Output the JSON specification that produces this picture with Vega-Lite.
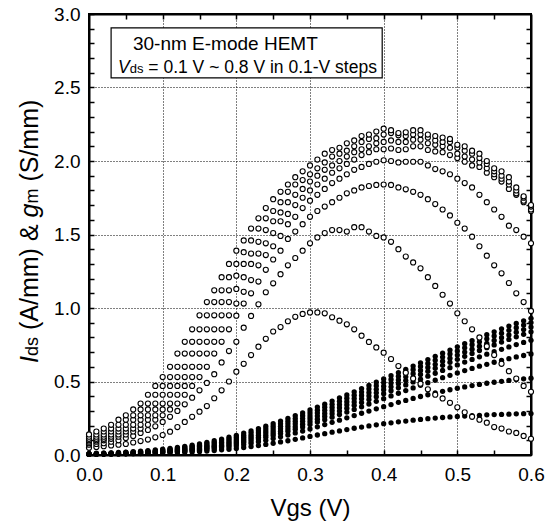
{
"$schema": "https://vega.github.io/schema/vega-lite/v6.json",
"width": 442, "height": 441,
"autosize": {"type": "none"},
"padding": {"left": 89, "top": 14, "right": 21, "bottom": 71},
"background": "white",
"config": {"font": "Liberation Sans", "view": {"stroke": "black", "strokeWidth": 2}},
"datasets": {
"gm": [
{"vds":0.1,"vgs":0,"y":0.05},{"vds":0.1,"vgs":0.01,"y":0.055},{"vds":0.1,"vgs":0.02,"y":0.06},{"vds":0.1,"vgs":0.03,"y":0.065},{"vds":0.1,"vgs":0.04,"y":0.07},{"vds":0.1,"vgs":0.05,"y":0.075},{"vds":0.1,"vgs":0.06,"y":0.085},{"vds":0.1,"vgs":0.07,"y":0.095},{"vds":0.1,"vgs":0.08,"y":0.105},{"vds":0.1,"vgs":0.09,"y":0.12},{"vds":0.1,"vgs":0.1,"y":0.136},
{"vds":0.1,"vgs":0.11,"y":0.159},{"vds":0.1,"vgs":0.12,"y":0.19},{"vds":0.1,"vgs":0.13,"y":0.225},{"vds":0.1,"vgs":0.14,"y":0.26},{"vds":0.1,"vgs":0.15,"y":0.295},{"vds":0.1,"vgs":0.16,"y":0.333},{"vds":0.1,"vgs":0.17,"y":0.386},{"vds":0.1,"vgs":0.18,"y":0.44},{"vds":0.1,"vgs":0.19,"y":0.5},{"vds":0.1,"vgs":0.2,"y":0.567},
{"vds":0.1,"vgs":0.21,"y":0.62},{"vds":0.1,"vgs":0.22,"y":0.68},{"vds":0.1,"vgs":0.23,"y":0.737},{"vds":0.1,"vgs":0.24,"y":0.79},{"vds":0.1,"vgs":0.25,"y":0.84},{"vds":0.1,"vgs":0.26,"y":0.87},{"vds":0.1,"vgs":0.27,"y":0.91},{"vds":0.1,"vgs":0.28,"y":0.94},{"vds":0.1,"vgs":0.29,"y":0.96},{"vds":0.1,"vgs":0.3,"y":0.97},
{"vds":0.1,"vgs":0.31,"y":0.97},{"vds":0.1,"vgs":0.32,"y":0.964},{"vds":0.1,"vgs":0.33,"y":0.937},{"vds":0.1,"vgs":0.34,"y":0.914},{"vds":0.1,"vgs":0.35,"y":0.889},{"vds":0.1,"vgs":0.36,"y":0.855},{"vds":0.1,"vgs":0.37,"y":0.812},{"vds":0.1,"vgs":0.38,"y":0.769},{"vds":0.1,"vgs":0.39,"y":0.732},{"vds":0.1,"vgs":0.4,"y":0.696},
{"vds":0.1,"vgs":0.41,"y":0.653},{"vds":0.1,"vgs":0.42,"y":0.605},{"vds":0.1,"vgs":0.43,"y":0.56},{"vds":0.1,"vgs":0.44,"y":0.52},{"vds":0.1,"vgs":0.45,"y":0.485},{"vds":0.1,"vgs":0.46,"y":0.447},{"vds":0.1,"vgs":0.47,"y":0.41},{"vds":0.1,"vgs":0.48,"y":0.385},{"vds":0.1,"vgs":0.49,"y":0.355},{"vds":0.1,"vgs":0.5,"y":0.324},
{"vds":0.1,"vgs":0.51,"y":0.29},{"vds":0.1,"vgs":0.52,"y":0.26},{"vds":0.1,"vgs":0.53,"y":0.24},{"vds":0.1,"vgs":0.54,"y":0.22},{"vds":0.1,"vgs":0.55,"y":0.19},{"vds":0.1,"vgs":0.56,"y":0.18},{"vds":0.1,"vgs":0.57,"y":0.16},{"vds":0.1,"vgs":0.58,"y":0.15},{"vds":0.1,"vgs":0.59,"y":0.13},{"vds":0.1,"vgs":0.6,"y":0.11},

{"vds":0.2,"vgs":0,"y":0.07},{"vds":0.2,"vgs":0.01,"y":0.075},{"vds":0.2,"vgs":0.02,"y":0.08},{"vds":0.2,"vgs":0.03,"y":0.09},{"vds":0.2,"vgs":0.04,"y":0.1},{"vds":0.2,"vgs":0.05,"y":0.115},{"vds":0.2,"vgs":0.06,"y":0.13},{"vds":0.2,"vgs":0.07,"y":0.15},{"vds":0.2,"vgs":0.08,"y":0.17},{"vds":0.2,"vgs":0.09,"y":0.195},{"vds":0.2,"vgs":0.1,"y":0.225},
{"vds":0.2,"vgs":0.11,"y":0.26},{"vds":0.2,"vgs":0.12,"y":0.3},{"vds":0.2,"vgs":0.13,"y":0.345},{"vds":0.2,"vgs":0.14,"y":0.39},{"vds":0.2,"vgs":0.15,"y":0.44},{"vds":0.2,"vgs":0.16,"y":0.49},{"vds":0.2,"vgs":0.17,"y":0.55},{"vds":0.2,"vgs":0.18,"y":0.63},{"vds":0.2,"vgs":0.19,"y":0.707},{"vds":0.2,"vgs":0.2,"y":0.77},
{"vds":0.2,"vgs":0.21,"y":0.866},{"vds":0.2,"vgs":0.22,"y":0.946},{"vds":0.2,"vgs":0.23,"y":1.025},{"vds":0.2,"vgs":0.24,"y":1.107},{"vds":0.2,"vgs":0.25,"y":1.168},{"vds":0.2,"vgs":0.26,"y":1.23},{"vds":0.2,"vgs":0.27,"y":1.29},{"vds":0.2,"vgs":0.28,"y":1.34},{"vds":0.2,"vgs":0.29,"y":1.39},{"vds":0.2,"vgs":0.3,"y":1.44},
{"vds":0.2,"vgs":0.31,"y":1.48},{"vds":0.2,"vgs":0.32,"y":1.51},{"vds":0.2,"vgs":0.33,"y":1.53},{"vds":0.2,"vgs":0.34,"y":1.53},{"vds":0.2,"vgs":0.35,"y":1.52},{"vds":0.2,"vgs":0.36,"y":1.55},{"vds":0.2,"vgs":0.37,"y":1.55},{"vds":0.2,"vgs":0.38,"y":1.52},{"vds":0.2,"vgs":0.39,"y":1.49},{"vds":0.2,"vgs":0.4,"y":1.48},
{"vds":0.2,"vgs":0.41,"y":1.45},{"vds":0.2,"vgs":0.42,"y":1.4},{"vds":0.2,"vgs":0.43,"y":1.35},{"vds":0.2,"vgs":0.44,"y":1.31},{"vds":0.2,"vgs":0.45,"y":1.27},{"vds":0.2,"vgs":0.46,"y":1.21},{"vds":0.2,"vgs":0.47,"y":1.15},{"vds":0.2,"vgs":0.48,"y":1.09},{"vds":0.2,"vgs":0.49,"y":1.03},{"vds":0.2,"vgs":0.5,"y":0.964},
{"vds":0.2,"vgs":0.51,"y":0.91},{"vds":0.2,"vgs":0.52,"y":0.855},{"vds":0.2,"vgs":0.53,"y":0.8},{"vds":0.2,"vgs":0.54,"y":0.74},{"vds":0.2,"vgs":0.55,"y":0.68},{"vds":0.2,"vgs":0.56,"y":0.62},{"vds":0.2,"vgs":0.57,"y":0.57},{"vds":0.2,"vgs":0.58,"y":0.52},{"vds":0.2,"vgs":0.59,"y":0.47},{"vds":0.2,"vgs":0.6,"y":0.43},

{"vds":0.3,"vgs":0,"y":0.08},{"vds":0.3,"vgs":0.01,"y":0.09},{"vds":0.3,"vgs":0.02,"y":0.1},{"vds":0.3,"vgs":0.03,"y":0.11},{"vds":0.3,"vgs":0.04,"y":0.125},{"vds":0.3,"vgs":0.05,"y":0.14},{"vds":0.3,"vgs":0.06,"y":0.16},{"vds":0.3,"vgs":0.07,"y":0.18},{"vds":0.3,"vgs":0.08,"y":0.205},{"vds":0.3,"vgs":0.09,"y":0.24},{"vds":0.3,"vgs":0.1,"y":0.27},
{"vds":0.3,"vgs":0.11,"y":0.31},{"vds":0.3,"vgs":0.12,"y":0.35},{"vds":0.3,"vgs":0.13,"y":0.41},{"vds":0.3,"vgs":0.14,"y":0.47},{"vds":0.3,"vgs":0.15,"y":0.53},{"vds":0.3,"vgs":0.16,"y":0.6},{"vds":0.3,"vgs":0.17,"y":0.69},{"vds":0.3,"vgs":0.18,"y":0.77},{"vds":0.3,"vgs":0.19,"y":0.855},{"vds":0.3,"vgs":0.2,"y":0.948},
{"vds":0.3,"vgs":0.21,"y":1.03},{"vds":0.3,"vgs":0.22,"y":1.1},{"vds":0.3,"vgs":0.23,"y":1.18},{"vds":0.3,"vgs":0.24,"y":1.26},{"vds":0.3,"vgs":0.25,"y":1.33},{"vds":0.3,"vgs":0.26,"y":1.39},{"vds":0.3,"vgs":0.27,"y":1.47},{"vds":0.3,"vgs":0.28,"y":1.52},{"vds":0.3,"vgs":0.29,"y":1.57},{"vds":0.3,"vgs":0.3,"y":1.62},
{"vds":0.3,"vgs":0.31,"y":1.66},{"vds":0.3,"vgs":0.32,"y":1.69},{"vds":0.3,"vgs":0.33,"y":1.72},{"vds":0.3,"vgs":0.34,"y":1.75},{"vds":0.3,"vgs":0.35,"y":1.78},{"vds":0.3,"vgs":0.36,"y":1.8},{"vds":0.3,"vgs":0.37,"y":1.82},{"vds":0.3,"vgs":0.38,"y":1.83},{"vds":0.3,"vgs":0.39,"y":1.837},{"vds":0.3,"vgs":0.4,"y":1.84},
{"vds":0.3,"vgs":0.41,"y":1.837},{"vds":0.3,"vgs":0.42,"y":1.82},{"vds":0.3,"vgs":0.43,"y":1.807},{"vds":0.3,"vgs":0.44,"y":1.79},{"vds":0.3,"vgs":0.45,"y":1.77},{"vds":0.3,"vgs":0.46,"y":1.74},{"vds":0.3,"vgs":0.47,"y":1.707},{"vds":0.3,"vgs":0.48,"y":1.67},{"vds":0.3,"vgs":0.49,"y":1.63},{"vds":0.3,"vgs":0.5,"y":1.58},
{"vds":0.3,"vgs":0.51,"y":1.54},{"vds":0.3,"vgs":0.52,"y":1.485},{"vds":0.3,"vgs":0.53,"y":1.42},{"vds":0.3,"vgs":0.54,"y":1.356},{"vds":0.3,"vgs":0.55,"y":1.29},{"vds":0.3,"vgs":0.56,"y":1.236},{"vds":0.3,"vgs":0.57,"y":1.17},{"vds":0.3,"vgs":0.58,"y":1.1},{"vds":0.3,"vgs":0.59,"y":1.04},{"vds":0.3,"vgs":0.6,"y":0.98},

{"vds":0.4,"vgs":0,"y":0.09},{"vds":0.4,"vgs":0.01,"y":0.1},{"vds":0.4,"vgs":0.02,"y":0.11},{"vds":0.4,"vgs":0.03,"y":0.125},{"vds":0.4,"vgs":0.04,"y":0.14},{"vds":0.4,"vgs":0.05,"y":0.16},{"vds":0.4,"vgs":0.06,"y":0.18},{"vds":0.4,"vgs":0.07,"y":0.205},{"vds":0.4,"vgs":0.08,"y":0.24},{"vds":0.4,"vgs":0.09,"y":0.27},{"vds":0.4,"vgs":0.1,"y":0.31},
{"vds":0.4,"vgs":0.11,"y":0.35},{"vds":0.4,"vgs":0.12,"y":0.41},{"vds":0.4,"vgs":0.13,"y":0.47},{"vds":0.4,"vgs":0.14,"y":0.53},{"vds":0.4,"vgs":0.15,"y":0.6},{"vds":0.4,"vgs":0.16,"y":0.69},{"vds":0.4,"vgs":0.17,"y":0.77},{"vds":0.4,"vgs":0.18,"y":0.855},{"vds":0.4,"vgs":0.19,"y":0.95},{"vds":0.4,"vgs":0.2,"y":1.03},
{"vds":0.4,"vgs":0.21,"y":1.11},{"vds":0.4,"vgs":0.22,"y":1.19},{"vds":0.4,"vgs":0.23,"y":1.29},{"vds":0.4,"vgs":0.24,"y":1.36},{"vds":0.4,"vgs":0.25,"y":1.42},{"vds":0.4,"vgs":0.26,"y":1.49},{"vds":0.4,"vgs":0.27,"y":1.57},{"vds":0.4,"vgs":0.28,"y":1.62},{"vds":0.4,"vgs":0.29,"y":1.68},{"vds":0.4,"vgs":0.3,"y":1.73},
{"vds":0.4,"vgs":0.31,"y":1.77},{"vds":0.4,"vgs":0.32,"y":1.81},{"vds":0.4,"vgs":0.33,"y":1.85},{"vds":0.4,"vgs":0.34,"y":1.88},{"vds":0.4,"vgs":0.35,"y":1.91},{"vds":0.4,"vgs":0.36,"y":1.94},{"vds":0.4,"vgs":0.37,"y":1.96},{"vds":0.4,"vgs":0.38,"y":1.98},{"vds":0.4,"vgs":0.39,"y":1.995},{"vds":0.4,"vgs":0.4,"y":2.005},
{"vds":0.4,"vgs":0.41,"y":2.0},{"vds":0.4,"vgs":0.42,"y":1.99},{"vds":0.4,"vgs":0.43,"y":1.995},{"vds":0.4,"vgs":0.44,"y":1.995},{"vds":0.4,"vgs":0.45,"y":1.995},{"vds":0.4,"vgs":0.46,"y":1.97},{"vds":0.4,"vgs":0.47,"y":1.945},{"vds":0.4,"vgs":0.48,"y":1.93},{"vds":0.4,"vgs":0.49,"y":1.91},{"vds":0.4,"vgs":0.5,"y":1.88},
{"vds":0.4,"vgs":0.51,"y":1.85},{"vds":0.4,"vgs":0.52,"y":1.82},{"vds":0.4,"vgs":0.53,"y":1.77},{"vds":0.4,"vgs":0.54,"y":1.72},{"vds":0.4,"vgs":0.55,"y":1.67},{"vds":0.4,"vgs":0.56,"y":1.62},{"vds":0.4,"vgs":0.57,"y":1.56},{"vds":0.4,"vgs":0.58,"y":1.53},{"vds":0.4,"vgs":0.59,"y":1.485},{"vds":0.4,"vgs":0.6,"y":1.44},

{"vds":0.5,"vgs":0,"y":0.1},{"vds":0.5,"vgs":0.01,"y":0.11},{"vds":0.5,"vgs":0.02,"y":0.125},{"vds":0.5,"vgs":0.03,"y":0.14},{"vds":0.5,"vgs":0.04,"y":0.16},{"vds":0.5,"vgs":0.05,"y":0.18},{"vds":0.5,"vgs":0.06,"y":0.205},{"vds":0.5,"vgs":0.07,"y":0.24},{"vds":0.5,"vgs":0.08,"y":0.27},{"vds":0.5,"vgs":0.09,"y":0.31},{"vds":0.5,"vgs":0.1,"y":0.35},
{"vds":0.5,"vgs":0.11,"y":0.41},{"vds":0.5,"vgs":0.12,"y":0.47},{"vds":0.5,"vgs":0.13,"y":0.53},{"vds":0.5,"vgs":0.14,"y":0.6},{"vds":0.5,"vgs":0.15,"y":0.69},{"vds":0.5,"vgs":0.16,"y":0.77},{"vds":0.5,"vgs":0.17,"y":0.855},{"vds":0.5,"vgs":0.18,"y":0.95},{"vds":0.5,"vgs":0.19,"y":1.04},{"vds":0.5,"vgs":0.2,"y":1.13},
{"vds":0.5,"vgs":0.21,"y":1.21},{"vds":0.5,"vgs":0.22,"y":1.3},{"vds":0.5,"vgs":0.23,"y":1.37},{"vds":0.5,"vgs":0.24,"y":1.44},{"vds":0.5,"vgs":0.25,"y":1.51},{"vds":0.5,"vgs":0.26,"y":1.59},{"vds":0.5,"vgs":0.27,"y":1.64},{"vds":0.5,"vgs":0.28,"y":1.7},{"vds":0.5,"vgs":0.29,"y":1.75},{"vds":0.5,"vgs":0.3,"y":1.8},
{"vds":0.5,"vgs":0.31,"y":1.84},{"vds":0.5,"vgs":0.32,"y":1.88},{"vds":0.5,"vgs":0.33,"y":1.92},{"vds":0.5,"vgs":0.34,"y":1.95},{"vds":0.5,"vgs":0.35,"y":1.98},{"vds":0.5,"vgs":0.36,"y":2.01},{"vds":0.5,"vgs":0.37,"y":2.04},{"vds":0.5,"vgs":0.38,"y":2.06},{"vds":0.5,"vgs":0.39,"y":2.08},{"vds":0.5,"vgs":0.4,"y":2.08},
{"vds":0.5,"vgs":0.41,"y":2.085},{"vds":0.5,"vgs":0.42,"y":2.075},{"vds":0.5,"vgs":0.43,"y":2.08},{"vds":0.5,"vgs":0.44,"y":2.1},{"vds":0.5,"vgs":0.45,"y":2.1},{"vds":0.5,"vgs":0.46,"y":2.075},{"vds":0.5,"vgs":0.47,"y":2.065},{"vds":0.5,"vgs":0.48,"y":2.06},{"vds":0.5,"vgs":0.49,"y":2.04},{"vds":0.5,"vgs":0.5,"y":2.02},
{"vds":0.5,"vgs":0.51,"y":1.995},{"vds":0.5,"vgs":0.52,"y":1.97},{"vds":0.5,"vgs":0.53,"y":1.96},{"vds":0.5,"vgs":0.54,"y":1.92},{"vds":0.5,"vgs":0.55,"y":1.89},{"vds":0.5,"vgs":0.56,"y":1.86},{"vds":0.5,"vgs":0.57,"y":1.81},{"vds":0.5,"vgs":0.58,"y":1.77},{"vds":0.5,"vgs":0.59,"y":1.72},{"vds":0.5,"vgs":0.6,"y":1.66},

{"vds":0.6,"vgs":0,"y":0.11},{"vds":0.6,"vgs":0.01,"y":0.125},{"vds":0.6,"vgs":0.02,"y":0.14},{"vds":0.6,"vgs":0.03,"y":0.16},{"vds":0.6,"vgs":0.04,"y":0.18},{"vds":0.6,"vgs":0.05,"y":0.205},{"vds":0.6,"vgs":0.06,"y":0.24},{"vds":0.6,"vgs":0.07,"y":0.27},{"vds":0.6,"vgs":0.08,"y":0.31},{"vds":0.6,"vgs":0.09,"y":0.35},{"vds":0.6,"vgs":0.1,"y":0.41},
{"vds":0.6,"vgs":0.11,"y":0.47},{"vds":0.6,"vgs":0.12,"y":0.53},{"vds":0.6,"vgs":0.13,"y":0.6},{"vds":0.6,"vgs":0.14,"y":0.69},{"vds":0.6,"vgs":0.15,"y":0.77},{"vds":0.6,"vgs":0.16,"y":0.855},{"vds":0.6,"vgs":0.17,"y":0.95},{"vds":0.6,"vgs":0.18,"y":1.04},{"vds":0.6,"vgs":0.19,"y":1.12},{"vds":0.6,"vgs":0.2,"y":1.22},
{"vds":0.6,"vgs":0.21,"y":1.3},{"vds":0.6,"vgs":0.22,"y":1.37},{"vds":0.6,"vgs":0.23,"y":1.45},{"vds":0.6,"vgs":0.24,"y":1.53},{"vds":0.6,"vgs":0.25,"y":1.59},{"vds":0.6,"vgs":0.26,"y":1.65},{"vds":0.6,"vgs":0.27,"y":1.72},{"vds":0.6,"vgs":0.28,"y":1.77},{"vds":0.6,"vgs":0.29,"y":1.81},{"vds":0.6,"vgs":0.3,"y":1.86},
{"vds":0.6,"vgs":0.31,"y":1.9},{"vds":0.6,"vgs":0.32,"y":1.94},{"vds":0.6,"vgs":0.33,"y":1.97},{"vds":0.6,"vgs":0.34,"y":2.0},{"vds":0.6,"vgs":0.35,"y":2.03},{"vds":0.6,"vgs":0.36,"y":2.06},{"vds":0.6,"vgs":0.37,"y":2.08},{"vds":0.6,"vgs":0.38,"y":2.1},{"vds":0.6,"vgs":0.39,"y":2.12},{"vds":0.6,"vgs":0.4,"y":2.13},
{"vds":0.6,"vgs":0.41,"y":2.14},{"vds":0.6,"vgs":0.42,"y":2.13},{"vds":0.6,"vgs":0.43,"y":2.13},{"vds":0.6,"vgs":0.44,"y":2.145},{"vds":0.6,"vgs":0.45,"y":2.145},{"vds":0.6,"vgs":0.46,"y":2.12},{"vds":0.6,"vgs":0.47,"y":2.11},{"vds":0.6,"vgs":0.48,"y":2.1},{"vds":0.6,"vgs":0.49,"y":2.09},{"vds":0.6,"vgs":0.5,"y":2.05},
{"vds":0.6,"vgs":0.51,"y":2.03},{"vds":0.6,"vgs":0.52,"y":2.01},{"vds":0.6,"vgs":0.53,"y":1.99},{"vds":0.6,"vgs":0.54,"y":1.95},{"vds":0.6,"vgs":0.55,"y":1.91},{"vds":0.6,"vgs":0.56,"y":1.88},{"vds":0.6,"vgs":0.57,"y":1.84},{"vds":0.6,"vgs":0.58,"y":1.78},{"vds":0.6,"vgs":0.59,"y":1.73},{"vds":0.6,"vgs":0.6,"y":1.67},

{"vds":0.7,"vgs":0,"y":0.125},{"vds":0.7,"vgs":0.01,"y":0.14},{"vds":0.7,"vgs":0.02,"y":0.16},{"vds":0.7,"vgs":0.03,"y":0.18},{"vds":0.7,"vgs":0.04,"y":0.205},{"vds":0.7,"vgs":0.05,"y":0.24},{"vds":0.7,"vgs":0.06,"y":0.27},{"vds":0.7,"vgs":0.07,"y":0.31},{"vds":0.7,"vgs":0.08,"y":0.35},{"vds":0.7,"vgs":0.09,"y":0.41},{"vds":0.7,"vgs":0.1,"y":0.47},
{"vds":0.7,"vgs":0.11,"y":0.53},{"vds":0.7,"vgs":0.12,"y":0.6},{"vds":0.7,"vgs":0.13,"y":0.69},{"vds":0.7,"vgs":0.14,"y":0.77},{"vds":0.7,"vgs":0.15,"y":0.855},{"vds":0.7,"vgs":0.16,"y":0.95},{"vds":0.7,"vgs":0.17,"y":1.04},{"vds":0.7,"vgs":0.18,"y":1.12},{"vds":0.7,"vgs":0.19,"y":1.21},{"vds":0.7,"vgs":0.2,"y":1.3},
{"vds":0.7,"vgs":0.21,"y":1.38},{"vds":0.7,"vgs":0.22,"y":1.46},{"vds":0.7,"vgs":0.23,"y":1.54},{"vds":0.7,"vgs":0.24,"y":1.61},{"vds":0.7,"vgs":0.25,"y":1.66},{"vds":0.7,"vgs":0.26,"y":1.72},{"vds":0.7,"vgs":0.27,"y":1.79},{"vds":0.7,"vgs":0.28,"y":1.84},{"vds":0.7,"vgs":0.29,"y":1.87},{"vds":0.7,"vgs":0.3,"y":1.91},
{"vds":0.7,"vgs":0.31,"y":1.95},{"vds":0.7,"vgs":0.32,"y":1.99},{"vds":0.7,"vgs":0.33,"y":2.03},{"vds":0.7,"vgs":0.34,"y":2.05},{"vds":0.7,"vgs":0.35,"y":2.07},{"vds":0.7,"vgs":0.36,"y":2.1},{"vds":0.7,"vgs":0.37,"y":2.13},{"vds":0.7,"vgs":0.38,"y":2.15},{"vds":0.7,"vgs":0.39,"y":2.155},{"vds":0.7,"vgs":0.4,"y":2.18},
{"vds":0.7,"vgs":0.41,"y":2.19},{"vds":0.7,"vgs":0.42,"y":2.175},{"vds":0.7,"vgs":0.43,"y":2.17},{"vds":0.7,"vgs":0.44,"y":2.18},{"vds":0.7,"vgs":0.45,"y":2.18},{"vds":0.7,"vgs":0.46,"y":2.16},{"vds":0.7,"vgs":0.47,"y":2.14},{"vds":0.7,"vgs":0.48,"y":2.13},{"vds":0.7,"vgs":0.49,"y":2.13},{"vds":0.7,"vgs":0.5,"y":2.09},
{"vds":0.7,"vgs":0.51,"y":2.07},{"vds":0.7,"vgs":0.52,"y":2.05},{"vds":0.7,"vgs":0.53,"y":2.02},{"vds":0.7,"vgs":0.54,"y":1.98},{"vds":0.7,"vgs":0.55,"y":1.93},{"vds":0.7,"vgs":0.56,"y":1.9},{"vds":0.7,"vgs":0.57,"y":1.86},{"vds":0.7,"vgs":0.58,"y":1.8},{"vds":0.7,"vgs":0.59,"y":1.75},{"vds":0.7,"vgs":0.6,"y":1.69},

{"vds":0.8,"vgs":0,"y":0.14},{"vds":0.8,"vgs":0.01,"y":0.16},{"vds":0.8,"vgs":0.02,"y":0.18},{"vds":0.8,"vgs":0.03,"y":0.205},{"vds":0.8,"vgs":0.04,"y":0.24},{"vds":0.8,"vgs":0.05,"y":0.27},{"vds":0.8,"vgs":0.06,"y":0.31},{"vds":0.8,"vgs":0.07,"y":0.35},{"vds":0.8,"vgs":0.08,"y":0.41},{"vds":0.8,"vgs":0.09,"y":0.47},{"vds":0.8,"vgs":0.1,"y":0.53},
{"vds":0.8,"vgs":0.11,"y":0.6},{"vds":0.8,"vgs":0.12,"y":0.69},{"vds":0.8,"vgs":0.13,"y":0.77},{"vds":0.8,"vgs":0.14,"y":0.855},{"vds":0.8,"vgs":0.15,"y":0.95},{"vds":0.8,"vgs":0.16,"y":1.04},{"vds":0.8,"vgs":0.17,"y":1.12},{"vds":0.8,"vgs":0.18,"y":1.21},{"vds":0.8,"vgs":0.19,"y":1.3},{"vds":0.8,"vgs":0.2,"y":1.39},
{"vds":0.8,"vgs":0.21,"y":1.46},{"vds":0.8,"vgs":0.22,"y":1.54},{"vds":0.8,"vgs":0.23,"y":1.61},{"vds":0.8,"vgs":0.24,"y":1.68},{"vds":0.8,"vgs":0.25,"y":1.74},{"vds":0.8,"vgs":0.26,"y":1.79},{"vds":0.8,"vgs":0.27,"y":1.84},{"vds":0.8,"vgs":0.28,"y":1.89},{"vds":0.8,"vgs":0.29,"y":1.93},{"vds":0.8,"vgs":0.3,"y":1.97},
{"vds":0.8,"vgs":0.31,"y":2.01},{"vds":0.8,"vgs":0.32,"y":2.05},{"vds":0.8,"vgs":0.33,"y":2.075},{"vds":0.8,"vgs":0.34,"y":2.09},{"vds":0.8,"vgs":0.35,"y":2.12},{"vds":0.8,"vgs":0.36,"y":2.14},{"vds":0.8,"vgs":0.37,"y":2.17},{"vds":0.8,"vgs":0.38,"y":2.18},{"vds":0.8,"vgs":0.39,"y":2.2},{"vds":0.8,"vgs":0.4,"y":2.22},
{"vds":0.8,"vgs":0.41,"y":2.21},{"vds":0.8,"vgs":0.42,"y":2.19},{"vds":0.8,"vgs":0.43,"y":2.195},{"vds":0.8,"vgs":0.44,"y":2.21},{"vds":0.8,"vgs":0.45,"y":2.21},{"vds":0.8,"vgs":0.46,"y":2.18},{"vds":0.8,"vgs":0.47,"y":2.17},{"vds":0.8,"vgs":0.48,"y":2.16},{"vds":0.8,"vgs":0.49,"y":2.15},{"vds":0.8,"vgs":0.5,"y":2.11},
{"vds":0.8,"vgs":0.51,"y":2.1},{"vds":0.8,"vgs":0.52,"y":2.07},{"vds":0.8,"vgs":0.53,"y":2.05},{"vds":0.8,"vgs":0.54,"y":2.0},{"vds":0.8,"vgs":0.55,"y":1.95},{"vds":0.8,"vgs":0.56,"y":1.93},{"vds":0.8,"vgs":0.57,"y":1.89},{"vds":0.8,"vgs":0.58,"y":1.82},{"vds":0.8,"vgs":0.59,"y":1.76},{"vds":0.8,"vgs":0.6,"y":1.7}
],
"ids": [
{"vds":0.1,"vgs":0,"y":0.005},{"vds":0.1,"vgs":0.01,"y":0.006},{"vds":0.1,"vgs":0.02,"y":0.006},{"vds":0.1,"vgs":0.03,"y":0.007},{"vds":0.1,"vgs":0.04,"y":0.007},{"vds":0.1,"vgs":0.05,"y":0.008},{"vds":0.1,"vgs":0.06,"y":0.009},{"vds":0.1,"vgs":0.07,"y":0.01},{"vds":0.1,"vgs":0.08,"y":0.011},{"vds":0.1,"vgs":0.09,"y":0.012},{"vds":0.1,"vgs":0.1,"y":0.013},
{"vds":0.1,"vgs":0.11,"y":0.015},{"vds":0.1,"vgs":0.12,"y":0.016},{"vds":0.1,"vgs":0.13,"y":0.019},{"vds":0.1,"vgs":0.14,"y":0.021},{"vds":0.1,"vgs":0.15,"y":0.024},{"vds":0.1,"vgs":0.16,"y":0.027},{"vds":0.1,"vgs":0.17,"y":0.03},{"vds":0.1,"vgs":0.18,"y":0.035},{"vds":0.1,"vgs":0.19,"y":0.039},{"vds":0.1,"vgs":0.2,"y":0.045},
{"vds":0.1,"vgs":0.21,"y":0.051},{"vds":0.1,"vgs":0.22,"y":0.057},{"vds":0.1,"vgs":0.23,"y":0.064},{"vds":0.1,"vgs":0.24,"y":0.072},{"vds":0.1,"vgs":0.25,"y":0.08},{"vds":0.1,"vgs":0.26,"y":0.089},{"vds":0.1,"vgs":0.27,"y":0.097},{"vds":0.1,"vgs":0.28,"y":0.107},{"vds":0.1,"vgs":0.29,"y":0.116},{"vds":0.1,"vgs":0.3,"y":0.126},
{"vds":0.1,"vgs":0.31,"y":0.136},{"vds":0.1,"vgs":0.32,"y":0.145},{"vds":0.1,"vgs":0.33,"y":0.155},{"vds":0.1,"vgs":0.34,"y":0.164},{"vds":0.1,"vgs":0.35,"y":0.173},{"vds":0.1,"vgs":0.36,"y":0.182},{"vds":0.1,"vgs":0.37,"y":0.19},{"vds":0.1,"vgs":0.38,"y":0.198},{"vds":0.1,"vgs":0.39,"y":0.205},{"vds":0.1,"vgs":0.4,"y":0.213},
{"vds":0.1,"vgs":0.41,"y":0.219},{"vds":0.1,"vgs":0.42,"y":0.226},{"vds":0.1,"vgs":0.43,"y":0.231},{"vds":0.1,"vgs":0.44,"y":0.237},{"vds":0.1,"vgs":0.45,"y":0.242},{"vds":0.1,"vgs":0.46,"y":0.247},{"vds":0.1,"vgs":0.47,"y":0.251},{"vds":0.1,"vgs":0.48,"y":0.255},{"vds":0.1,"vgs":0.49,"y":0.259},{"vds":0.1,"vgs":0.5,"y":0.262},
{"vds":0.1,"vgs":0.51,"y":0.265},{"vds":0.1,"vgs":0.52,"y":0.268},{"vds":0.1,"vgs":0.53,"y":0.27},{"vds":0.1,"vgs":0.54,"y":0.273},{"vds":0.1,"vgs":0.55,"y":0.275},{"vds":0.1,"vgs":0.56,"y":0.276},{"vds":0.1,"vgs":0.57,"y":0.278},{"vds":0.1,"vgs":0.58,"y":0.28},{"vds":0.1,"vgs":0.59,"y":0.281},{"vds":0.1,"vgs":0.6,"y":0.282},

{"vds":0.2,"vgs":0,"y":0.004},{"vds":0.2,"vgs":0.01,"y":0.005},{"vds":0.2,"vgs":0.02,"y":0.006},{"vds":0.2,"vgs":0.03,"y":0.006},{"vds":0.2,"vgs":0.04,"y":0.007},{"vds":0.2,"vgs":0.05,"y":0.008},{"vds":0.2,"vgs":0.06,"y":0.01},{"vds":0.2,"vgs":0.07,"y":0.011},{"vds":0.2,"vgs":0.08,"y":0.013},{"vds":0.2,"vgs":0.09,"y":0.014},{"vds":0.2,"vgs":0.1,"y":0.017},
{"vds":0.2,"vgs":0.11,"y":0.019},{"vds":0.2,"vgs":0.12,"y":0.022},{"vds":0.2,"vgs":0.13,"y":0.025},{"vds":0.2,"vgs":0.14,"y":0.029},{"vds":0.2,"vgs":0.15,"y":0.033},{"vds":0.2,"vgs":0.16,"y":0.038},{"vds":0.2,"vgs":0.17,"y":0.043},{"vds":0.2,"vgs":0.18,"y":0.049},{"vds":0.2,"vgs":0.19,"y":0.055},{"vds":0.2,"vgs":0.2,"y":0.063},
{"vds":0.2,"vgs":0.21,"y":0.071},{"vds":0.2,"vgs":0.22,"y":0.08},{"vds":0.2,"vgs":0.23,"y":0.09},{"vds":0.2,"vgs":0.24,"y":0.1},{"vds":0.2,"vgs":0.25,"y":0.112},{"vds":0.2,"vgs":0.26,"y":0.124},{"vds":0.2,"vgs":0.27,"y":0.136},{"vds":0.2,"vgs":0.28,"y":0.15},{"vds":0.2,"vgs":0.29,"y":0.163},{"vds":0.2,"vgs":0.3,"y":0.177},
{"vds":0.2,"vgs":0.31,"y":0.192},{"vds":0.2,"vgs":0.32,"y":0.207},{"vds":0.2,"vgs":0.33,"y":0.222},{"vds":0.2,"vgs":0.34,"y":0.237},{"vds":0.2,"vgs":0.35,"y":0.253},{"vds":0.2,"vgs":0.36,"y":0.268},{"vds":0.2,"vgs":0.37,"y":0.284},{"vds":0.2,"vgs":0.38,"y":0.299},{"vds":0.2,"vgs":0.39,"y":0.314},{"vds":0.2,"vgs":0.4,"y":0.329},
{"vds":0.2,"vgs":0.41,"y":0.343},{"vds":0.2,"vgs":0.42,"y":0.358},{"vds":0.2,"vgs":0.43,"y":0.371},{"vds":0.2,"vgs":0.44,"y":0.385},{"vds":0.2,"vgs":0.45,"y":0.398},{"vds":0.2,"vgs":0.46,"y":0.41},{"vds":0.2,"vgs":0.47,"y":0.422},{"vds":0.2,"vgs":0.48,"y":0.433},{"vds":0.2,"vgs":0.49,"y":0.444},{"vds":0.2,"vgs":0.5,"y":0.454},
{"vds":0.2,"vgs":0.51,"y":0.463},{"vds":0.2,"vgs":0.52,"y":0.472},{"vds":0.2,"vgs":0.53,"y":0.48},{"vds":0.2,"vgs":0.54,"y":0.488},{"vds":0.2,"vgs":0.55,"y":0.495},{"vds":0.2,"vgs":0.56,"y":0.501},{"vds":0.2,"vgs":0.57,"y":0.507},{"vds":0.2,"vgs":0.58,"y":0.513},{"vds":0.2,"vgs":0.59,"y":0.518},{"vds":0.2,"vgs":0.6,"y":0.522},

{"vds":0.3,"vgs":0,"y":0.004},{"vds":0.3,"vgs":0.01,"y":0.005},{"vds":0.3,"vgs":0.02,"y":0.006},{"vds":0.3,"vgs":0.03,"y":0.007},{"vds":0.3,"vgs":0.04,"y":0.008},{"vds":0.3,"vgs":0.05,"y":0.01},{"vds":0.3,"vgs":0.06,"y":0.012},{"vds":0.3,"vgs":0.07,"y":0.013},{"vds":0.3,"vgs":0.08,"y":0.015},{"vds":0.3,"vgs":0.09,"y":0.017},{"vds":0.3,"vgs":0.1,"y":0.02},
{"vds":0.3,"vgs":0.11,"y":0.023},{"vds":0.3,"vgs":0.12,"y":0.026},{"vds":0.3,"vgs":0.13,"y":0.03},{"vds":0.3,"vgs":0.14,"y":0.034},{"vds":0.3,"vgs":0.15,"y":0.039},{"vds":0.3,"vgs":0.16,"y":0.045},{"vds":0.3,"vgs":0.17,"y":0.051},{"vds":0.3,"vgs":0.18,"y":0.059},{"vds":0.3,"vgs":0.19,"y":0.067},{"vds":0.3,"vgs":0.2,"y":0.076},
{"vds":0.3,"vgs":0.21,"y":0.086},{"vds":0.3,"vgs":0.22,"y":0.096},{"vds":0.3,"vgs":0.23,"y":0.108},{"vds":0.3,"vgs":0.24,"y":0.12},{"vds":0.3,"vgs":0.25,"y":0.133},{"vds":0.3,"vgs":0.26,"y":0.147},{"vds":0.3,"vgs":0.27,"y":0.161},{"vds":0.3,"vgs":0.28,"y":0.176},{"vds":0.3,"vgs":0.29,"y":0.191},{"vds":0.3,"vgs":0.3,"y":0.207},
{"vds":0.3,"vgs":0.31,"y":0.224},{"vds":0.3,"vgs":0.32,"y":0.24},{"vds":0.3,"vgs":0.33,"y":0.257},{"vds":0.3,"vgs":0.34,"y":0.275},{"vds":0.3,"vgs":0.35,"y":0.292},{"vds":0.3,"vgs":0.36,"y":0.31},{"vds":0.3,"vgs":0.37,"y":0.328},{"vds":0.3,"vgs":0.38,"y":0.347},{"vds":0.3,"vgs":0.39,"y":0.365},{"vds":0.3,"vgs":0.4,"y":0.383},
{"vds":0.3,"vgs":0.41,"y":0.402},{"vds":0.3,"vgs":0.42,"y":0.42},{"vds":0.3,"vgs":0.43,"y":0.438},{"vds":0.3,"vgs":0.44,"y":0.456},{"vds":0.3,"vgs":0.45,"y":0.474},{"vds":0.3,"vgs":0.46,"y":0.492},{"vds":0.3,"vgs":0.47,"y":0.509},{"vds":0.3,"vgs":0.48,"y":0.526},{"vds":0.3,"vgs":0.49,"y":0.542},{"vds":0.3,"vgs":0.5,"y":0.558},
{"vds":0.3,"vgs":0.51,"y":0.574},{"vds":0.3,"vgs":0.52,"y":0.589},{"vds":0.3,"vgs":0.53,"y":0.604},{"vds":0.3,"vgs":0.54,"y":0.617},{"vds":0.3,"vgs":0.55,"y":0.631},{"vds":0.3,"vgs":0.56,"y":0.643},{"vds":0.3,"vgs":0.57,"y":0.655},{"vds":0.3,"vgs":0.58,"y":0.667},{"vds":0.3,"vgs":0.59,"y":0.677},{"vds":0.3,"vgs":0.6,"y":0.687},

{"vds":0.4,"vgs":0,"y":0.005},{"vds":0.4,"vgs":0.01,"y":0.006},{"vds":0.4,"vgs":0.02,"y":0.007},{"vds":0.4,"vgs":0.03,"y":0.008},{"vds":0.4,"vgs":0.04,"y":0.01},{"vds":0.4,"vgs":0.05,"y":0.012},{"vds":0.4,"vgs":0.06,"y":0.013},{"vds":0.4,"vgs":0.07,"y":0.015},{"vds":0.4,"vgs":0.08,"y":0.017},{"vds":0.4,"vgs":0.09,"y":0.02},{"vds":0.4,"vgs":0.1,"y":0.023},
{"vds":0.4,"vgs":0.11,"y":0.026},{"vds":0.4,"vgs":0.12,"y":0.03},{"vds":0.4,"vgs":0.13,"y":0.034},{"vds":0.4,"vgs":0.14,"y":0.039},{"vds":0.4,"vgs":0.15,"y":0.045},{"vds":0.4,"vgs":0.16,"y":0.051},{"vds":0.4,"vgs":0.17,"y":0.059},{"vds":0.4,"vgs":0.18,"y":0.067},{"vds":0.4,"vgs":0.19,"y":0.076},{"vds":0.4,"vgs":0.2,"y":0.086},
{"vds":0.4,"vgs":0.21,"y":0.097},{"vds":0.4,"vgs":0.22,"y":0.108},{"vds":0.4,"vgs":0.23,"y":0.12},{"vds":0.4,"vgs":0.24,"y":0.134},{"vds":0.4,"vgs":0.25,"y":0.148},{"vds":0.4,"vgs":0.26,"y":0.162},{"vds":0.4,"vgs":0.27,"y":0.177},{"vds":0.4,"vgs":0.28,"y":0.193},{"vds":0.4,"vgs":0.29,"y":0.21},{"vds":0.4,"vgs":0.3,"y":0.227},
{"vds":0.4,"vgs":0.31,"y":0.244},{"vds":0.4,"vgs":0.32,"y":0.262},{"vds":0.4,"vgs":0.33,"y":0.281},{"vds":0.4,"vgs":0.34,"y":0.299},{"vds":0.4,"vgs":0.35,"y":0.318},{"vds":0.4,"vgs":0.36,"y":0.338},{"vds":0.4,"vgs":0.37,"y":0.357},{"vds":0.4,"vgs":0.38,"y":0.377},{"vds":0.4,"vgs":0.39,"y":0.397},{"vds":0.4,"vgs":0.4,"y":0.417},
{"vds":0.4,"vgs":0.41,"y":0.437},{"vds":0.4,"vgs":0.42,"y":0.457},{"vds":0.4,"vgs":0.43,"y":0.477},{"vds":0.4,"vgs":0.44,"y":0.497},{"vds":0.4,"vgs":0.45,"y":0.516},{"vds":0.4,"vgs":0.46,"y":0.536},{"vds":0.4,"vgs":0.47,"y":0.556},{"vds":0.4,"vgs":0.48,"y":0.575},{"vds":0.4,"vgs":0.49,"y":0.594},{"vds":0.4,"vgs":0.5,"y":0.613},
{"vds":0.4,"vgs":0.51,"y":0.632},{"vds":0.4,"vgs":0.52,"y":0.65},{"vds":0.4,"vgs":0.53,"y":0.668},{"vds":0.4,"vgs":0.54,"y":0.686},{"vds":0.4,"vgs":0.55,"y":0.703},{"vds":0.4,"vgs":0.56,"y":0.719},{"vds":0.4,"vgs":0.57,"y":0.735},{"vds":0.4,"vgs":0.58,"y":0.751},{"vds":0.4,"vgs":0.59,"y":0.766},{"vds":0.4,"vgs":0.6,"y":0.78},

{"vds":0.5,"vgs":0,"y":0.006},{"vds":0.5,"vgs":0.01,"y":0.007},{"vds":0.5,"vgs":0.02,"y":0.008},{"vds":0.5,"vgs":0.03,"y":0.01},{"vds":0.5,"vgs":0.04,"y":0.012},{"vds":0.5,"vgs":0.05,"y":0.013},{"vds":0.5,"vgs":0.06,"y":0.015},{"vds":0.5,"vgs":0.07,"y":0.017},{"vds":0.5,"vgs":0.08,"y":0.02},{"vds":0.5,"vgs":0.09,"y":0.023},{"vds":0.5,"vgs":0.1,"y":0.026},
{"vds":0.5,"vgs":0.11,"y":0.03},{"vds":0.5,"vgs":0.12,"y":0.034},{"vds":0.5,"vgs":0.13,"y":0.039},{"vds":0.5,"vgs":0.14,"y":0.045},{"vds":0.5,"vgs":0.15,"y":0.051},{"vds":0.5,"vgs":0.16,"y":0.059},{"vds":0.5,"vgs":0.17,"y":0.067},{"vds":0.5,"vgs":0.18,"y":0.076},{"vds":0.5,"vgs":0.19,"y":0.086},{"vds":0.5,"vgs":0.2,"y":0.097},
{"vds":0.5,"vgs":0.21,"y":0.109},{"vds":0.5,"vgs":0.22,"y":0.121},{"vds":0.5,"vgs":0.23,"y":0.134},{"vds":0.5,"vgs":0.24,"y":0.149},{"vds":0.5,"vgs":0.25,"y":0.163},{"vds":0.5,"vgs":0.26,"y":0.179},{"vds":0.5,"vgs":0.27,"y":0.195},{"vds":0.5,"vgs":0.28,"y":0.212},{"vds":0.5,"vgs":0.29,"y":0.229},{"vds":0.5,"vgs":0.3,"y":0.247},
{"vds":0.5,"vgs":0.31,"y":0.265},{"vds":0.5,"vgs":0.32,"y":0.283},{"vds":0.5,"vgs":0.33,"y":0.302},{"vds":0.5,"vgs":0.34,"y":0.322},{"vds":0.5,"vgs":0.35,"y":0.341},{"vds":0.5,"vgs":0.36,"y":0.361},{"vds":0.5,"vgs":0.37,"y":0.382},{"vds":0.5,"vgs":0.38,"y":0.402},{"vds":0.5,"vgs":0.39,"y":0.423},{"vds":0.5,"vgs":0.4,"y":0.444},
{"vds":0.5,"vgs":0.41,"y":0.464},{"vds":0.5,"vgs":0.42,"y":0.485},{"vds":0.5,"vgs":0.43,"y":0.506},{"vds":0.5,"vgs":0.44,"y":0.527},{"vds":0.5,"vgs":0.45,"y":0.548},{"vds":0.5,"vgs":0.46,"y":0.569},{"vds":0.5,"vgs":0.47,"y":0.59},{"vds":0.5,"vgs":0.48,"y":0.61},{"vds":0.5,"vgs":0.49,"y":0.631},{"vds":0.5,"vgs":0.5,"y":0.651},
{"vds":0.5,"vgs":0.51,"y":0.671},{"vds":0.5,"vgs":0.52,"y":0.691},{"vds":0.5,"vgs":0.53,"y":0.711},{"vds":0.5,"vgs":0.54,"y":0.73},{"vds":0.5,"vgs":0.55,"y":0.749},{"vds":0.5,"vgs":0.56,"y":0.768},{"vds":0.5,"vgs":0.57,"y":0.786},{"vds":0.5,"vgs":0.58,"y":0.804},{"vds":0.5,"vgs":0.59,"y":0.821},{"vds":0.5,"vgs":0.6,"y":0.838},

{"vds":0.6,"vgs":0,"y":0.007},{"vds":0.6,"vgs":0.01,"y":0.008},{"vds":0.6,"vgs":0.02,"y":0.01},{"vds":0.6,"vgs":0.03,"y":0.012},{"vds":0.6,"vgs":0.04,"y":0.013},{"vds":0.6,"vgs":0.05,"y":0.015},{"vds":0.6,"vgs":0.06,"y":0.017},{"vds":0.6,"vgs":0.07,"y":0.02},{"vds":0.6,"vgs":0.08,"y":0.023},{"vds":0.6,"vgs":0.09,"y":0.026},{"vds":0.6,"vgs":0.1,"y":0.03},
{"vds":0.6,"vgs":0.11,"y":0.034},{"vds":0.6,"vgs":0.12,"y":0.039},{"vds":0.6,"vgs":0.13,"y":0.045},{"vds":0.6,"vgs":0.14,"y":0.051},{"vds":0.6,"vgs":0.15,"y":0.059},{"vds":0.6,"vgs":0.16,"y":0.067},{"vds":0.6,"vgs":0.17,"y":0.076},{"vds":0.6,"vgs":0.18,"y":0.086},{"vds":0.6,"vgs":0.19,"y":0.097},{"vds":0.6,"vgs":0.2,"y":0.108},
{"vds":0.6,"vgs":0.21,"y":0.121},{"vds":0.6,"vgs":0.22,"y":0.134},{"vds":0.6,"vgs":0.23,"y":0.149},{"vds":0.6,"vgs":0.24,"y":0.163},{"vds":0.6,"vgs":0.25,"y":0.179},{"vds":0.6,"vgs":0.26,"y":0.195},{"vds":0.6,"vgs":0.27,"y":0.212},{"vds":0.6,"vgs":0.28,"y":0.23},{"vds":0.6,"vgs":0.29,"y":0.248},{"vds":0.6,"vgs":0.3,"y":0.266},
{"vds":0.6,"vgs":0.31,"y":0.285},{"vds":0.6,"vgs":0.32,"y":0.304},{"vds":0.6,"vgs":0.33,"y":0.323},{"vds":0.6,"vgs":0.34,"y":0.343},{"vds":0.6,"vgs":0.35,"y":0.363},{"vds":0.6,"vgs":0.36,"y":0.384},{"vds":0.6,"vgs":0.37,"y":0.405},{"vds":0.6,"vgs":0.38,"y":0.425},{"vds":0.6,"vgs":0.39,"y":0.447},{"vds":0.6,"vgs":0.4,"y":0.468},
{"vds":0.6,"vgs":0.41,"y":0.489},{"vds":0.6,"vgs":0.42,"y":0.511},{"vds":0.6,"vgs":0.43,"y":0.532},{"vds":0.6,"vgs":0.44,"y":0.553},{"vds":0.6,"vgs":0.45,"y":0.575},{"vds":0.6,"vgs":0.46,"y":0.596},{"vds":0.6,"vgs":0.47,"y":0.617},{"vds":0.6,"vgs":0.48,"y":0.638},{"vds":0.6,"vgs":0.49,"y":0.659},{"vds":0.6,"vgs":0.5,"y":0.68},
{"vds":0.6,"vgs":0.51,"y":0.7},{"vds":0.6,"vgs":0.52,"y":0.72},{"vds":0.6,"vgs":0.53,"y":0.74},{"vds":0.6,"vgs":0.54,"y":0.76},{"vds":0.6,"vgs":0.55,"y":0.779},{"vds":0.6,"vgs":0.56,"y":0.798},{"vds":0.6,"vgs":0.57,"y":0.817},{"vds":0.6,"vgs":0.58,"y":0.835},{"vds":0.6,"vgs":0.59,"y":0.853},{"vds":0.6,"vgs":0.6,"y":0.87},

{"vds":0.7,"vgs":0,"y":0.009},{"vds":0.7,"vgs":0.01,"y":0.01},{"vds":0.7,"vgs":0.02,"y":0.012},{"vds":0.7,"vgs":0.03,"y":0.013},{"vds":0.7,"vgs":0.04,"y":0.015},{"vds":0.7,"vgs":0.05,"y":0.017},{"vds":0.7,"vgs":0.06,"y":0.02},{"vds":0.7,"vgs":0.07,"y":0.023},{"vds":0.7,"vgs":0.08,"y":0.026},{"vds":0.7,"vgs":0.09,"y":0.03},{"vds":0.7,"vgs":0.1,"y":0.034},
{"vds":0.7,"vgs":0.11,"y":0.039},{"vds":0.7,"vgs":0.12,"y":0.045},{"vds":0.7,"vgs":0.13,"y":0.051},{"vds":0.7,"vgs":0.14,"y":0.059},{"vds":0.7,"vgs":0.15,"y":0.067},{"vds":0.7,"vgs":0.16,"y":0.076},{"vds":0.7,"vgs":0.17,"y":0.086},{"vds":0.7,"vgs":0.18,"y":0.097},{"vds":0.7,"vgs":0.19,"y":0.108},{"vds":0.7,"vgs":0.2,"y":0.121},
{"vds":0.7,"vgs":0.21,"y":0.134},{"vds":0.7,"vgs":0.22,"y":0.149},{"vds":0.7,"vgs":0.23,"y":0.164},{"vds":0.7,"vgs":0.24,"y":0.179},{"vds":0.7,"vgs":0.25,"y":0.196},{"vds":0.7,"vgs":0.26,"y":0.213},{"vds":0.7,"vgs":0.27,"y":0.23},{"vds":0.7,"vgs":0.28,"y":0.248},{"vds":0.7,"vgs":0.29,"y":0.267},{"vds":0.7,"vgs":0.3,"y":0.286},
{"vds":0.7,"vgs":0.31,"y":0.305},{"vds":0.7,"vgs":0.32,"y":0.325},{"vds":0.7,"vgs":0.33,"y":0.345},{"vds":0.7,"vgs":0.34,"y":0.365},{"vds":0.7,"vgs":0.35,"y":0.386},{"vds":0.7,"vgs":0.36,"y":0.407},{"vds":0.7,"vgs":0.37,"y":0.428},{"vds":0.7,"vgs":0.38,"y":0.449},{"vds":0.7,"vgs":0.39,"y":0.471},{"vds":0.7,"vgs":0.4,"y":0.493},
{"vds":0.7,"vgs":0.41,"y":0.514},{"vds":0.7,"vgs":0.42,"y":0.536},{"vds":0.7,"vgs":0.43,"y":0.558},{"vds":0.7,"vgs":0.44,"y":0.58},{"vds":0.7,"vgs":0.45,"y":0.602},{"vds":0.7,"vgs":0.46,"y":0.623},{"vds":0.7,"vgs":0.47,"y":0.645},{"vds":0.7,"vgs":0.48,"y":0.666},{"vds":0.7,"vgs":0.49,"y":0.687},{"vds":0.7,"vgs":0.5,"y":0.708},
{"vds":0.7,"vgs":0.51,"y":0.729},{"vds":0.7,"vgs":0.52,"y":0.75},{"vds":0.7,"vgs":0.53,"y":0.77},{"vds":0.7,"vgs":0.54,"y":0.79},{"vds":0.7,"vgs":0.55,"y":0.81},{"vds":0.7,"vgs":0.56,"y":0.829},{"vds":0.7,"vgs":0.57,"y":0.848},{"vds":0.7,"vgs":0.58,"y":0.866},{"vds":0.7,"vgs":0.59,"y":0.884},{"vds":0.7,"vgs":0.6,"y":0.901},

{"vds":0.8,"vgs":0,"y":0.01},{"vds":0.8,"vgs":0.01,"y":0.012},{"vds":0.8,"vgs":0.02,"y":0.013},{"vds":0.8,"vgs":0.03,"y":0.015},{"vds":0.8,"vgs":0.04,"y":0.017},{"vds":0.8,"vgs":0.05,"y":0.02},{"vds":0.8,"vgs":0.06,"y":0.023},{"vds":0.8,"vgs":0.07,"y":0.026},{"vds":0.8,"vgs":0.08,"y":0.03},{"vds":0.8,"vgs":0.09,"y":0.034},{"vds":0.8,"vgs":0.1,"y":0.039},
{"vds":0.8,"vgs":0.11,"y":0.045},{"vds":0.8,"vgs":0.12,"y":0.051},{"vds":0.8,"vgs":0.13,"y":0.059},{"vds":0.8,"vgs":0.14,"y":0.067},{"vds":0.8,"vgs":0.15,"y":0.076},{"vds":0.8,"vgs":0.16,"y":0.086},{"vds":0.8,"vgs":0.17,"y":0.097},{"vds":0.8,"vgs":0.18,"y":0.108},{"vds":0.8,"vgs":0.19,"y":0.121},{"vds":0.8,"vgs":0.2,"y":0.134},
{"vds":0.8,"vgs":0.21,"y":0.149},{"vds":0.8,"vgs":0.22,"y":0.164},{"vds":0.8,"vgs":0.23,"y":0.179},{"vds":0.8,"vgs":0.24,"y":0.196},{"vds":0.8,"vgs":0.25,"y":0.213},{"vds":0.8,"vgs":0.26,"y":0.231},{"vds":0.8,"vgs":0.27,"y":0.249},{"vds":0.8,"vgs":0.28,"y":0.267},{"vds":0.8,"vgs":0.29,"y":0.286},{"vds":0.8,"vgs":0.3,"y":0.306},
{"vds":0.8,"vgs":0.31,"y":0.326},{"vds":0.8,"vgs":0.32,"y":0.346},{"vds":0.8,"vgs":0.33,"y":0.367},{"vds":0.8,"vgs":0.34,"y":0.388},{"vds":0.8,"vgs":0.35,"y":0.409},{"vds":0.8,"vgs":0.36,"y":0.43},{"vds":0.8,"vgs":0.37,"y":0.452},{"vds":0.8,"vgs":0.38,"y":0.473},{"vds":0.8,"vgs":0.39,"y":0.495},{"vds":0.8,"vgs":0.4,"y":0.517},
{"vds":0.8,"vgs":0.41,"y":0.539},{"vds":0.8,"vgs":0.42,"y":0.561},{"vds":0.8,"vgs":0.43,"y":0.583},{"vds":0.8,"vgs":0.44,"y":0.605},{"vds":0.8,"vgs":0.45,"y":0.627},{"vds":0.8,"vgs":0.46,"y":0.649},{"vds":0.8,"vgs":0.47,"y":0.671},{"vds":0.8,"vgs":0.48,"y":0.693},{"vds":0.8,"vgs":0.49,"y":0.714},{"vds":0.8,"vgs":0.5,"y":0.736},
{"vds":0.8,"vgs":0.51,"y":0.757},{"vds":0.8,"vgs":0.52,"y":0.778},{"vds":0.8,"vgs":0.53,"y":0.798},{"vds":0.8,"vgs":0.54,"y":0.818},{"vds":0.8,"vgs":0.55,"y":0.838},{"vds":0.8,"vgs":0.56,"y":0.858},{"vds":0.8,"vgs":0.57,"y":0.877},{"vds":0.8,"vgs":0.58,"y":0.895},{"vds":0.8,"vgs":0.59,"y":0.913},{"vds":0.8,"vgs":0.6,"y":0.93}
]
},
"resolve": {"axis": {"x": "independent", "y": "independent"}},
"layer": [
{
"data": {"name": "ids"},
"mark": {"type": "point", "shape": "circle", "filled": true, "color": "black", "size": 28, "opacity": 1},
"encoding": {
"x": {"field": "vgs", "type": "quantitative",
"scale": {"domain": [0, 0.6], "nice": false, "zero": false},
"axis": {"orient": "bottom",
"values": [0,0.05,0.1,0.15,0.2,0.25,0.3,0.35,0.4,0.45,0.5,0.55,0.6],
"labelExpr": "round(datum.value*100) % 10 === 0 ? format(datum.value, '.1f') : ''",
"grid": true, "gridColor": "black", "gridDash": [1, 2], "gridWidth": 1,
"gridOpacity": {"condition": {"test": "round(datum.value*100) % 10 === 0 && datum.value > 0.01 && datum.value < 0.59", "value": 1}, "value": 0},
"tickSize": -5, "tickWidth": 1.5, "tickColor": "black",
"domainColor": "black", "domainWidth": 2,
"labelFontSize": 19, "labelColor": "black", "labelPadding": 15, "labelFlush": false, "labelOverlap": false,
"title": "Vgs (V)", "titleFontSize": 24, "titleFontWeight": "normal", "titleColor": "black", "titlePadding": 12}},
"y": {"field": "y", "type": "quantitative",
"scale": {"domain": [0, 3], "nice": false, "zero": false},
"axis": {"orient": "left",
"values": [0,0.1,0.2,0.3,0.4,0.5,0.6,0.7,0.8,0.9,1,1.1,1.2,1.3,1.4,1.5,1.6,1.7,1.8,1.9,2,2.1,2.2,2.3,2.4,2.5,2.6,2.7,2.8,2.9,3],
"labelExpr": "round(datum.value*10) % 5 === 0 ? format(datum.value, '.1f') : ''",
"grid": true, "gridColor": "black", "gridDash": [1, 2], "gridWidth": 1,
"gridOpacity": {"condition": {"test": "round(datum.value*10) % 5 === 0 && datum.value > 0.05 && datum.value < 2.95", "value": 1}, "value": 0},
"tickSize": -5, "tickWidth": 1.5, "tickColor": "black",
"domainColor": "black", "domainWidth": 2,
"labelFontSize": 19, "labelColor": "black", "labelPadding": 14, "labelFlush": false, "labelOverlap": false,
"title": null}}
}
},
{
"data": {"name": "gm"},
"mark": {"type": "point", "shape": "circle", "filled": true, "fill": "white", "stroke": "black", "strokeWidth": 1.1, "size": 26, "opacity": 1},
"encoding": {
"x": {"field": "vgs", "type": "quantitative",
"axis": {"orient": "top", "values": [0.05,0.1,0.15,0.2,0.25,0.3,0.35,0.4,0.45,0.5,0.55], "labels": false, "grid": false, "title": null,
"tickSize": -5, "tickWidth": 1.5, "tickColor": "black", "domainColor": "black", "domainWidth": 2}},
"y": {"field": "y", "type": "quantitative",
"axis": {"orient": "right", "values": [0.1,0.2,0.3,0.4,0.5,0.6,0.7,0.8,0.9,1,1.1,1.2,1.3,1.4,1.5,1.6,1.7,1.8,1.9,2,2.1,2.2,2.3,2.4,2.5,2.6,2.7,2.8,2.9], "labels": false, "grid": false, "title": null,
"tickSize": -5, "tickWidth": 1.5, "tickColor": "black", "domainColor": "black", "domainWidth": 2}}
}
},
{
"data": {"values": [{"label": "box"}]},
"mark": {"type": "rect", "fill": "white", "stroke": "black", "strokeWidth": 1.2},
"encoding": {
"x": {"datum": 0.03, "type": "quantitative", "axis": null},
"x2": {"datum": 0.398},
"y": {"datum": 2.905, "type": "quantitative", "axis": null},
"y2": {"datum": 2.565}
}
},
{
"data": {"values": [{"t": "30-nm E-mode HEMT"}]},
"mark": {"type": "text", "align": "left", "baseline": "alphabetic", "fontSize": 19, "color": "black"},
"encoding": {
"x": {"datum": 0.0597, "type": "quantitative", "axis": null},
"y": {"datum": 2.755, "type": "quantitative", "axis": null},
"text": {"field": "t"}
}
},
{
"data": {"values": [{"t": "V"}]},
"mark": {"type": "text", "align": "left", "baseline": "alphabetic", "fontSize": 17.5, "fontStyle": "italic", "color": "black"},
"encoding": {
"x": {"datum": 0.0394, "type": "quantitative", "axis": null},
"y": {"datum": 2.6, "type": "quantitative", "axis": null},
"text": {"field": "t"}
}
},
{
"data": {"values": [
{"t": "ds", "dx": 11.7, "fs": 13},
{"t": "= 0.1 V ~ 0.8 V in 0.1-V steps", "dx": 30.3, "fs": 17.5}
]},
"mark": {"type": "text", "align": "left", "baseline": "alphabetic", "color": "black"},
"encoding": {
"x": {"datum": 0.0394, "type": "quantitative", "axis": null},
"y": {"datum": 2.6, "type": "quantitative", "axis": null},
"text": {"field": "t"},
"xOffset": {"field": "dx", "type": "quantitative", "scale": null},
"size": {"field": "fs", "type": "quantitative", "scale": null}
}
},
{
"data": {"values": [
{"t": "I", "off": 0},
{"t": "g", "off": -145.5}
]},
"mark": {"type": "text", "align": "left", "baseline": "alphabetic", "angle": 270, "fontSize": 25, "fontStyle": "italic", "color": "black"},
"encoding": {
"x": {"datum": -0.0692, "type": "quantitative", "axis": null},
"y": {"datum": 0.626, "type": "quantitative", "axis": null},
"text": {"field": "t"},
"yOffset": {"field": "off", "type": "quantitative", "scale": null}
}
},
{
"data": {"values": [
{"t": "ds", "off": -7, "fs": 18},
{"t": "(A/mm) &", "off": -33, "fs": 25},
{"t": "m", "off": -159.4, "fs": 18},
{"t": "(S/mm)", "off": -181.4, "fs": 25}
]},
"mark": {"type": "text", "align": "left", "baseline": "alphabetic", "angle": 270, "color": "black"},
"encoding": {
"x": {"datum": -0.0692, "type": "quantitative", "axis": null},
"y": {"datum": 0.626, "type": "quantitative", "axis": null},
"text": {"field": "t"},
"yOffset": {"field": "off", "type": "quantitative", "scale": null},
"size": {"field": "fs", "type": "quantitative", "scale": null}
}
}
]
}
